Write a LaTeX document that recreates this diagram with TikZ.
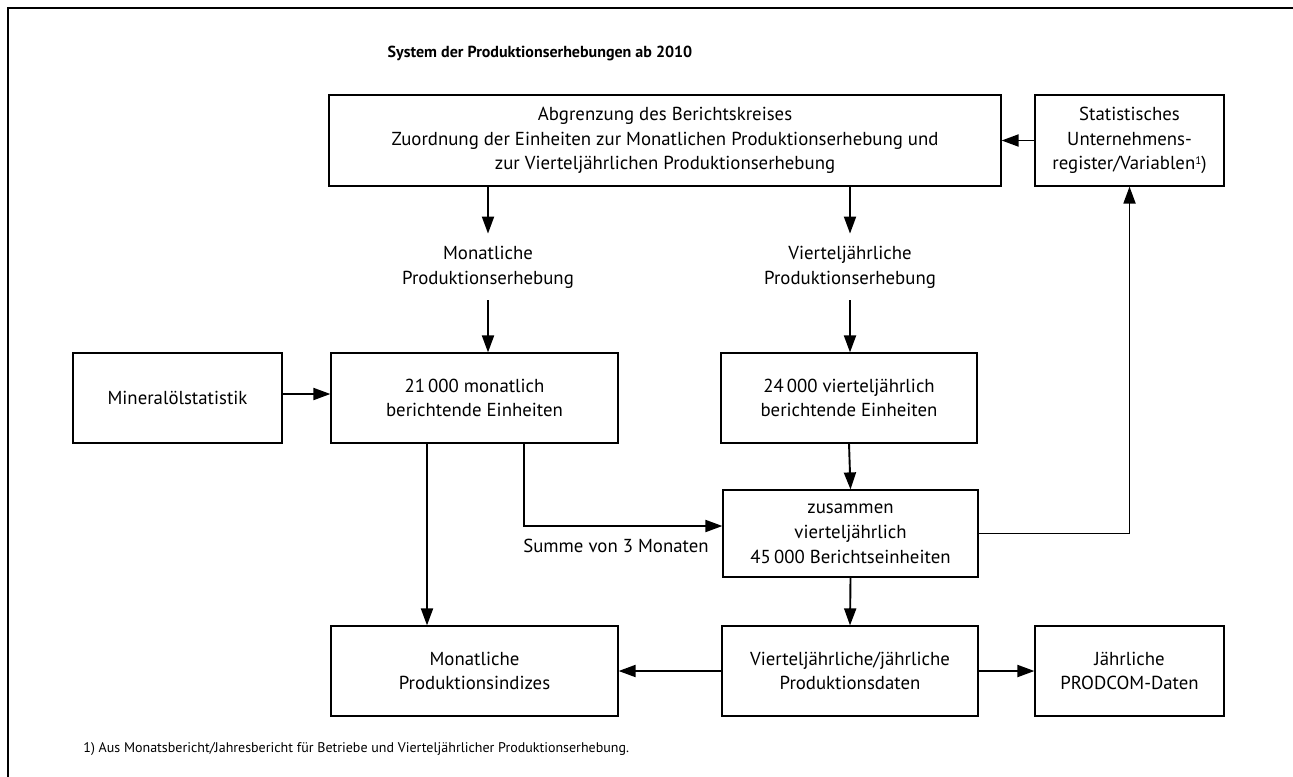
\documentclass[tikz,border=0pt]{standalone}
\usepackage{fontspec}
\setmainfont{PT Sans}
\usepackage{tikz}
\usetikzlibrary{arrows.meta,calc,positioning}

\begin{document}
\begin{tikzpicture}[x=0.5pt,y=-0.5pt,
  box/.style={draw,line width=0.6pt,align=center,inner sep=0pt,font=\fontsize{9.4}{12.4}\selectfont},
  txt/.style={align=center,inner sep=0pt,font=\fontsize{9.4}{12.4}\selectfont},
  arr/.style={line width=0.95pt,-{Triangle[length=8.5pt,width=6pt]}}]
\useasboundingbox (0,0) rectangle (1293,776);
% Rahmen
\draw[line width=1.2pt] (8,800) -- (8,8) -- (1320,8);
\node[font=\fontsize{8}{10}\selectfont\bfseries] (titel) at (540,53) {System der Produktionserhebungen ab 2010};
% Kaesten
\node[box,minimum width=336pt,minimum height=45.5pt] (abgr) at (665,140.5) {Abgrenzung des Berichtskreises\\Zuordnung der Einheiten zur Monatlichen Produktionserhebung und\\zur Vierteljährlichen Produktionserhebung};
\node[box,minimum width=94.5pt,minimum height=45.5pt] (urs) at (1129.5,140.5) {Statistisches\\Unternehmens-\\register/Variablen\raisebox{2.5pt}{\fontsize{5.5}{6}\selectfont 1})};
\node[txt,minimum height=33pt] (monerh) at (488,267) {Monatliche\\Produktionserhebung};
\node[txt,minimum height=33pt] (vjerh) at (850,267) {Vierteljährliche\\Produktionserhebung};
\node[box,minimum width=104.5pt,minimum height=45pt] (mineral) at (177.5,398) {Mineralölstatistik};
\node[box,minimum width=143.5pt,minimum height=45pt] (monat) at (474.5,398) {21\,000 monatlich\\berichtende Einheiten};
\node[box,minimum width=128pt,minimum height=45pt] (vj) at (849,398) {24\,000 vierteljährlich\\berichtende Einheiten};
\node[box,minimum width=127.5pt,minimum height=43.5pt] (zus) at (850.5,533.5) {zusammen\\vierteljährlich\\45\,000 Berichtseinheiten};
\node[box,minimum width=143.5pt,minimum height=45pt] (indizes) at (474.5,671) {Monatliche\\Produktionsindizes};
\node[box,minimum width=128pt,minimum height=45pt] (daten) at (850,671) {Vierteljährliche/jährliche\\Produktionsdaten};
\node[box,minimum width=94.5pt,minimum height=45pt] (prodcom) at (1129.5,671) {Jährliche\\PRODCOM-Daten};
\node[txt,anchor=east] (summe) at (709,546) {Summe von 3 Monaten};
\node[inner sep=0pt,anchor=base west,font=\fontsize{7}{8}\selectfont] (fussnote) at (83,752) {1) Aus Monatsbericht/Jahresbericht für Betriebe und Vierteljährlicher Produktionserhebung.};
% Pfeile
\draw[arr] (urs.west) -- (abgr.east);
\draw[arr] (abgr.south -| monerh.north) -- (monerh.north);
\draw[arr] (abgr.south -| vjerh.north) -- (vjerh.north);
\draw[arr] (monerh.south) -- (monerh.south |- monat.north);
\draw[arr] (vjerh.south) -- (vjerh.south |- vj.north);
\draw[arr] ($(mineral.east)+(0,-4)$) -- ($(monat.west)+(0,-4)$);
\draw[arr] (vj.south) -- (zus.north);
\draw[arr] ($(monat.south)+(-47.5,0)$) -- ($(indizes.north)+(-47.5,0)$);
\draw[arr] ($(monat.south)+(49.5,0)$) |- ($(zus.west)+(0,-7.5)$);
\draw[arr] (zus.east) -| (urs.south);
\draw[arr] (zus.south) -- (daten.north);
\draw[arr] (daten.west) -- (indizes.east);
\draw[arr] (daten.east) -- (prodcom.west);
\end{tikzpicture}
\end{document}
